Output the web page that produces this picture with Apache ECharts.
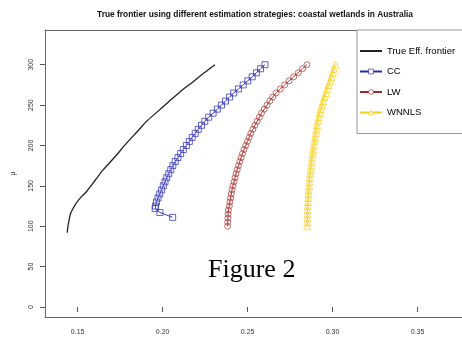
<!DOCTYPE html>
<html>
<head>
<meta charset="utf-8">
<script src="https://cdn.jsdelivr.net/npm/echarts@6/dist/echarts.min.js"></script>
<style>
  html, body { margin: 0; padding: 0; background: #fff; }
  #chart { width: 462px; height: 338px; }
</style>
</head>
<body>
<div id="chart"></div>
<script>
// tick labels
var xTicks = [0.15, 0.20, 0.25, 0.30, 0.35];
var yTicks = [0, 50, 100, 150, 200, 250, 300];

// series names
var names = ['True Eff. frontier', 'CC', 'LW', 'WNNLS'];

// true efficient frontier [sigma, mu]
var trueFrontier = [
    [0.1439, 92], [0.1443, 100], [0.1450, 108], [0.1459, 116], [0.1473, 122],
    [0.1490, 128], [0.1520, 136], [0.1553, 143], [0.1600, 156], [0.1651, 170],
    [0.1720, 186], [0.1788, 203], [0.1850, 217], [0.1906, 230], [0.1965, 241],
    [0.2024, 252], [0.2100, 266], [0.2180, 279], [0.2245, 290], [0.2308, 300]
];

// CC estimates
var ccData = [
    [0.2059, 111], [0.1984, 117], [0.1956, 122], [0.1958, 125], [0.1964, 130],
    [0.1973, 135], [0.1983, 140], [0.1994, 145], [0.2004, 150], [0.2014, 155],
    [0.2024, 160], [0.2036, 165], [0.2048, 170], [0.2060, 175], [0.2074, 180],
    [0.2090, 185], [0.2106, 190], [0.2122, 195], [0.2140, 200], [0.2157, 205],
    [0.2174, 210], [0.2192, 215], [0.2210, 220], [0.2229, 225], [0.2248, 230],
    [0.2271, 235], [0.2297, 240], [0.2322, 245], [0.2346, 250], [0.2370, 255],
    [0.2394, 260], [0.2418, 265], [0.2446, 270], [0.2474, 275], [0.2501, 280],
    [0.2527, 285], [0.2552, 290], [0.2576, 295], [0.2602, 300]
];

// LW estimates
var lwData = [
    [0.2382, 100], [0.2383, 105], [0.2384, 110], [0.2385, 115], [0.2387, 120],
    [0.2392, 125], [0.2396, 130], [0.2400, 135], [0.2404, 140], [0.2408, 145],
    [0.2414, 150], [0.2420, 155], [0.2426, 160], [0.2432, 165], [0.2439, 170],
    [0.2446, 175], [0.2454, 180], [0.2462, 185], [0.2470, 190], [0.2479, 195],
    [0.2489, 200], [0.2499, 205], [0.2509, 210], [0.2519, 215], [0.2531, 220],
    [0.2543, 225], [0.2556, 230], [0.2569, 235], [0.2582, 240], [0.2598, 245],
    [0.2614, 250], [0.2631, 255], [0.2648, 260], [0.2668, 265], [0.2692, 270],
    [0.2718, 275], [0.2744, 280], [0.2771, 285], [0.2798, 290], [0.2823, 295],
    [0.2849, 300]
];

// WNNLS estimates
var wnnlsData = [
    [0.2851, 100], [0.2851, 105], [0.2852, 110], [0.2852, 115], [0.2853, 120],
    [0.2853, 125], [0.2854, 130], [0.2856, 135], [0.2858, 140], [0.2860, 145],
    [0.2862, 150], [0.2864, 155], [0.2866, 160], [0.2868, 165], [0.2871, 170],
    [0.2874, 175], [0.2876, 180], [0.2879, 185], [0.2883, 190], [0.2886, 195],
    [0.2890, 200], [0.2893, 205], [0.2897, 210], [0.2901, 215], [0.2905, 220],
    [0.2909, 225], [0.2913, 230], [0.2918, 235], [0.2923, 240], [0.2930, 245],
    [0.2937, 250], [0.2944, 255], [0.2952, 260], [0.2960, 265], [0.2968, 270],
    [0.2976, 275], [0.2985, 280], [0.2993, 285], [0.3000, 290], [0.3008, 295],
    [0.3016, 300]
];

var chart = echarts.init(document.getElementById('chart'), null, { renderer: 'canvas' });

var axisFont = { fontFamily: 'Liberation Sans', fontSize: 7, color: '#333' };
var boxLine = { show: true, onZero: false, lineStyle: { color: '#666', width: 1 } };
var gridBox = { left: 45, top: 30, bottom: 21, right: -20, outerBoundsMode: 'none', containLabel: false, show: false };

// plain border axis on the overlay grid
function borderAxis(pos) {
    return {
        type: 'value', gridIndex: 1, position: pos, min: 0, max: 1,
        axisLine: boxLine, splitLine: { show: false },
        axisTick: { show: false }, axisLabel: { show: false }
    };
}

var option = {
    animation: false,
    backgroundColor: '#fff',
    title: [
        {
            text: 'True frontier using different estimation strategies: coastal wetlands in Australia',
            left: 250,
            top: 6,
            textAlign: 'center',
            textStyle: { fontFamily: 'Liberation Sans', fontSize: 8.4, fontWeight: 'bold', color: '#111' }
        },
        {
            text: 'Figure 2',
            left: 203,
            top: 252,
            textStyle: { fontFamily: 'Liberation Serif', fontSize: 26, fontWeight: 'normal', color: '#000' }
        }
    ],
    grid: [gridBox, Object.assign({}, gridBox)],
    legend: {
        orient: 'vertical',
        left: 357,
        top: 30,
        data: [
            { name: names[0], itemStyle: { opacity: 0 } },
            { name: names[1], itemStyle: { color: '#fff', borderColor: 'rgba(50,50,180,0.7)', borderWidth: 1 } },
            { name: names[2], itemStyle: { color: '#fff', borderColor: 'rgba(170,50,50,0.7)', borderWidth: 1 } },
            { name: names[3], itemStyle: { color: '#fff', borderColor: 'rgba(250,210,40,0.8)', borderWidth: 1 } }
        ],
        backgroundColor: '#fff',
        borderColor: '#999',
        borderWidth: 1,
        padding: [16, 60, 16, 2],
        itemWidth: 22,
        itemHeight: 6,
        itemGap: 10.5,
        textStyle: { fontFamily: 'Liberation Sans', fontSize: 9.5, color: '#000' }
    },
    xAxis: [
        {
            type: 'value',
            gridIndex: 0,
            position: 'bottom',
            min: 0.1308,
            max: 0.3879,
            axisLine: { show: false },
            splitLine: { show: false },
            axisTick: { show: true, length: 5, lineStyle: { color: '#555' }, customValues: xTicks },
            axisLabel: Object.assign({
                margin: 12,
                customValues: xTicks,
                formatter: function (v) { return v.toFixed(2); }
            }, axisFont)
        },
        borderAxis('bottom'),
        borderAxis('top')
    ],
    yAxis: [
        {
            type: 'value',
            gridIndex: 0,
            min: -12.4,
            max: 343,
            name: 'μ',
            nameLocation: 'middle',
            nameGap: 28,
            nameTextStyle: { fontFamily: 'Liberation Sans', fontSize: 7, color: '#333' },
            axisLine: boxLine,
            splitLine: { show: false },
            axisTick: { show: true, length: 5, lineStyle: { color: '#555' }, customValues: yTicks },
            axisLabel: Object.assign({
                margin: 10,
                rotate: 90,
                customValues: yTicks
            }, axisFont)
        },
        {
            type: 'value',
            gridIndex: 1,
            min: 0,
            max: 1,
            axisLine: { show: false },
            splitLine: { show: false },
            axisTick: { show: false },
            axisLabel: { show: false }
        }
    ],
    series: [
        {
            name: names[0],
            type: 'line',
            data: trueFrontier,
            smooth: 0.3,
            showSymbol: false,
            symbol: 'none',
            itemStyle: { color: '#222' },
            lineStyle: { color: '#222', width: 1.3 }
        },
        {
            name: names[1],
            type: 'line',
            data: ccData,
            symbol: 'rect',
            symbolSize: 6,
            itemStyle: { color: 'rgba(255,255,255,0)', borderColor: 'rgba(50,50,180,0.75)', borderWidth: 1 },
            lineStyle: { color: '#2a2aa8', width: 0.9 }
        },
        {
            name: names[2],
            type: 'line',
            data: lwData,
            symbol: 'circle',
            symbolSize: 6,
            itemStyle: { color: 'rgba(255,255,255,0)', borderColor: 'rgba(170,50,50,0.7)', borderWidth: 1 },
            lineStyle: { color: '#a32a2a', width: 0.9 }
        },
        {
            name: names[3],
            type: 'line',
            data: wnnlsData,
            symbol: 'triangle',
            symbolSize: 7,
            itemStyle: { color: 'rgba(255,255,255,0)', borderColor: 'rgba(250,210,40,0.8)', borderWidth: 1 },
            lineStyle: { color: '#f2cc20', width: 0.9 }
        }
    ]
};

chart.setOption(option);
</script>
</body>
</html>
